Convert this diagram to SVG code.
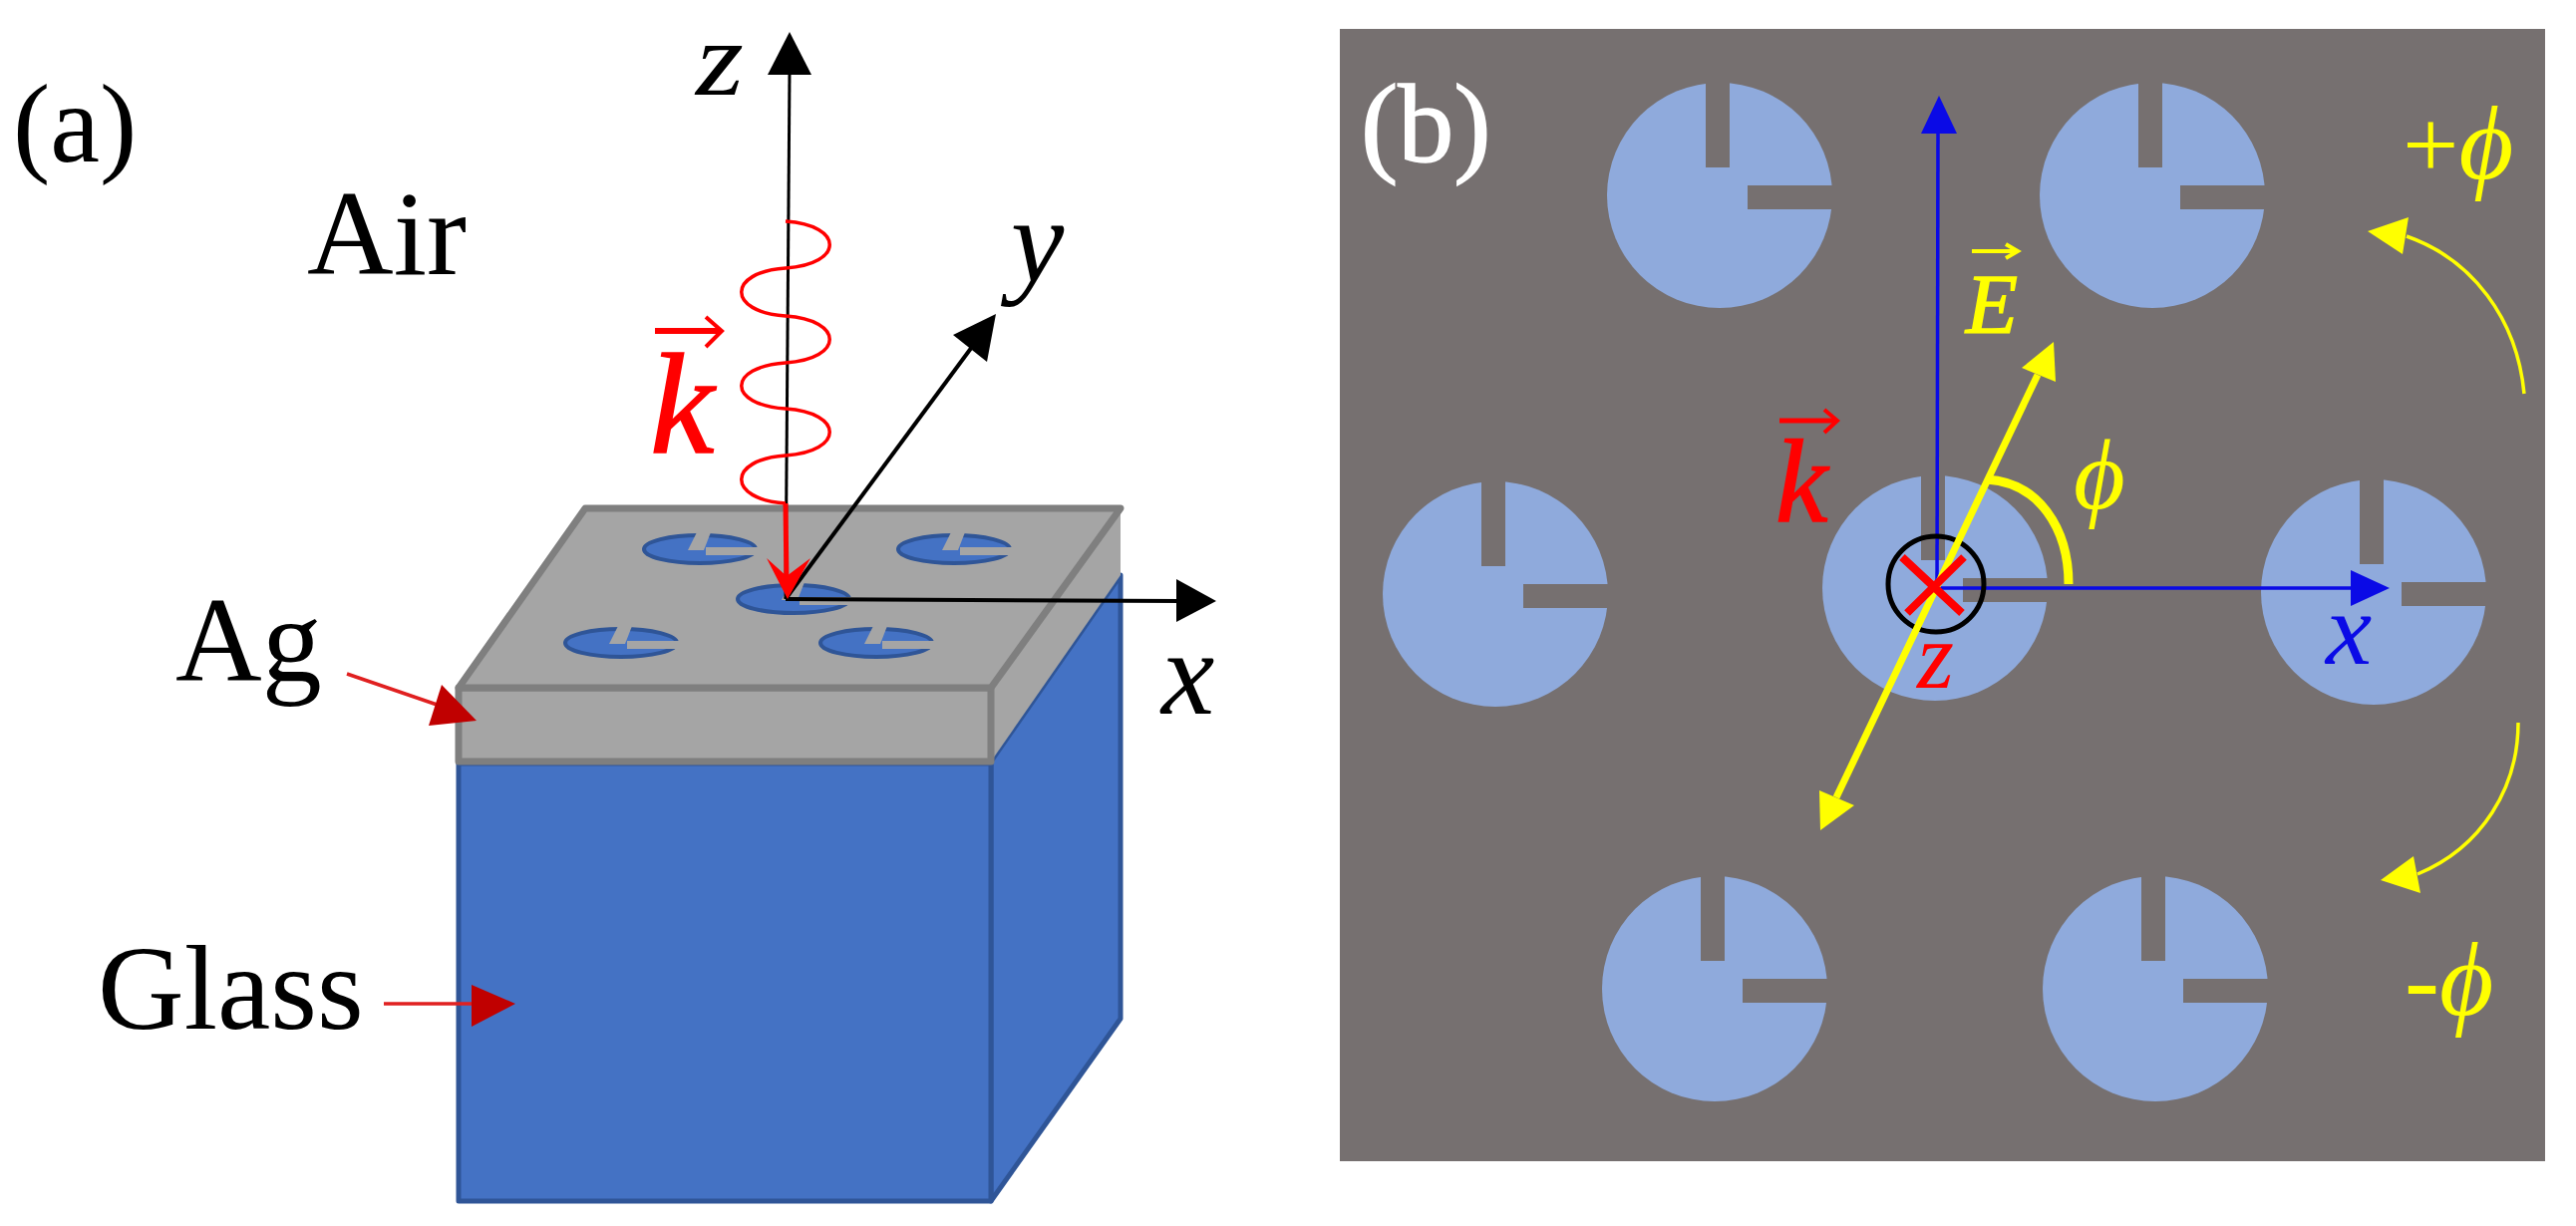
<svg xmlns="http://www.w3.org/2000/svg" xmlns:xlink="http://www.w3.org/1999/xlink" width="2584" height="1230" viewBox="0 0 2584 1230">
<style>
text{font-family:"Liberation Serif","Times New Roman",serif}
.i{font-style:italic}
.bk{stroke:#000;fill:none}
.gr{fill:#a5a5a5;stroke:#7f7f7f;stroke-width:7;stroke-linejoin:round}
.gl{fill:#4472c4;stroke:#2f5597;stroke-width:5;stroke-linejoin:round}
.y{fill:#ffff00}
.r{fill:#ff0000}
.dr{fill:#c00000}
.yl{stroke:#ffff00;fill:none}
.rl{stroke:#ff0000;fill:none}
.bl{stroke:#0a0ae6;stroke-width:3.5;fill:none}
.blf{fill:#0a0ae6}
.hv{stroke-width:1.5}
.slit{fill:#767070}
.hole{fill:#8faadc}
.ms{fill:#a5a5a5}
</style>
<defs>
<g id="disc"><circle class="hole" r="113"/><rect class="slit" x="-14" y="-116" width="24" height="88"/><rect class="slit" x="28" y="-10" width="88" height="24"/></g>
<g id="mini"><ellipse rx="56" ry="14" fill="#4472c4" stroke="#2f5597" stroke-width="4"/><path class="ms" d="M-3 -17L11 -17L4 1L-12 1Z"/><path class="ms" d="M6 -2L60 -2L60 6L6 6Z"/></g>
</defs>
<rect width="2584" height="1230" fill="#fff"/>
<g id="glass">
<path class="gl" d="M994 1205L1124 1022L1124 577L994 764Z"/>
<rect class="gl" x="460" y="766" width="534" height="439"/>
</g>
<g id="ag">
<path fill="#a5a5a5" d="M994 690L1124 510L1124 577L994 764Z"/>
<rect class="gr" x="460" y="690" width="534" height="74"/>
<path class="gr" d="M587 510L1124 510L994 690L460 690Z"/>
<use xlink:href="#mini" x="702" y="551"/>
<use xlink:href="#mini" x="957" y="551"/>
<use xlink:href="#mini" x="796" y="601"/>
<use xlink:href="#mini" x="623" y="645"/>
<use xlink:href="#mini" x="879" y="645"/>
</g>
<g id="connectors-a">
<path class="bk" stroke-width="3" d="M788 601L792 72"/>
<path d="M792 32L814 75L770 75Z"/>
<path class="bk" stroke-width="4" d="M788 601L975 348"/>
<path d="M999 315L990 363L956 336Z"/>
<path class="bk" stroke-width="4" d="M788 601L1185 603"/>
<path d="M1220 603L1180 581L1180 624Z"/>
<path class="rl" stroke-width="3.500" d="M788 222C847 226 847 265 788 269C729 273 729 313 788 317C847 321 847 360 788 364C729 368 729 406 788 410C847 414 847 453 788 457C729 461 729 501 788 505"/>
<path class="rl" stroke-width="5" d="M788 505L789 585"/>
<path class="r" d="M790 601L769 560L789 578L813 560Z"/>
<path stroke="#e02020" stroke-width="3.500" fill="none" d="M348 676L450 711"/>
<path class="dr" d="M478 723L443 687L430 728Z"/>
<path stroke="#e02020" stroke-width="3.500" fill="none" d="M385 1007L480 1007"/>
<path class="dr" d="M517 1007L473 988L473 1030Z"/>
<path class="rl" stroke-width="6" d="M657 332L722 332"/>
<path class="rl" stroke-width="4" d="M708 318L724 332L708 348"/>
</g>
<g id="labels-a">
<text x="13" y="162" font-size="112">(a)</text>
<text x="308" y="275" font-size="120">Air</text>
<text x="176" y="683" font-size="120">Ag</text>
<text x="98" y="1032" font-size="120">Glass</text>
<text class="i" x="698" y="95" font-size="105" textLength="48" lengthAdjust="spacingAndGlyphs">z</text>
<text class="i" x="1014" y="282" font-size="120">y</text>
<text class="i" x="1165" y="716" font-size="120">x</text>
<text class="i r" x="652" y="454" font-size="145" stroke="#ff0000" stroke-width="1.500">k</text>
</g>
<g id="panel-b">
<rect x="1344" y="29" width="1209" height="1136" fill="#767070"/>
<use xlink:href="#disc" x="1725" y="196"/>
<use xlink:href="#disc" x="2159" y="196"/>
<use xlink:href="#disc" x="1500" y="596"/>
<use xlink:href="#disc" x="1941" y="590"/>
<use xlink:href="#disc" x="2381" y="594"/>
<use xlink:href="#disc" x="1720" y="992"/>
<use xlink:href="#disc" x="2162" y="992"/>
</g>
<g id="connectors-b">
<path class="bl" d="M1943 591L1944 130"/>
<path class="blf" d="M1945 96L1963 134L1927 134Z"/>
<path class="bl" d="M1943 590L2365 590"/>
<path class="blf" d="M2397 590L2358 572L2358 608Z"/>
<circle cx="1942" cy="586" r="48" fill="none" stroke="#000" stroke-width="5"/>
<path class="yl" stroke-width="7" d="M1842 800L2044 376"/>
<path class="y" d="M2060 343L2062 383L2028 369Z"/>
<path class="y" d="M1826 833L1825 793L1860 808Z"/>
<path class="yl" stroke-width="9" d="M1993 481C2045 484 2075 530 2075 586"/>
<path class="rl" stroke-width="8" d="M1908 559L1968 615M1970 559L1913 615"/>
<path class="yl" stroke-width="3.500" d="M2532 395C2525 320 2480 260 2414 237"/>
<path class="y" d="M2375 232L2416 218L2410 255Z"/>
<path class="yl" stroke-width="3.500" d="M2526 725C2526 790 2490 850 2425 877"/>
<path class="y" d="M2388 883L2421 859L2428 896Z"/>
<path class="rl" stroke-width="5" d="M1785 422L1840 422"/>
<path class="rl" stroke-width="4" d="M1830 411L1843 422L1830 434"/>
<path class="yl" stroke-width="4" d="M1978 252L2022 252M2012 245L2024 252L2012 259"/>
</g>
<g id="labels-b">
<text x="1365" y="162" font-size="112" fill="#fff" stroke="#fff" stroke-width="1.500">(b)</text>
<text class="i y hv" x="1972" y="334" font-size="85" stroke="#ffff00">E</text>
<text class="i r hv" x="1781" y="523" font-size="118" stroke="#ff0000">k</text>
<text class="i r" x="1923" y="690" font-size="95">z</text>
<text class="i y" x="2080" y="510" font-size="100">ϕ</text>
<text class="y" x="2410" y="179" font-size="100">+<tspan class="i" font-size="106">ϕ</tspan></text>
<text class="y" x="2412" y="1018" font-size="105">-<tspan class="i">ϕ</tspan></text>
<text class="i blf" x="2333" y="666" font-size="104">x</text>
</g>
</svg>
